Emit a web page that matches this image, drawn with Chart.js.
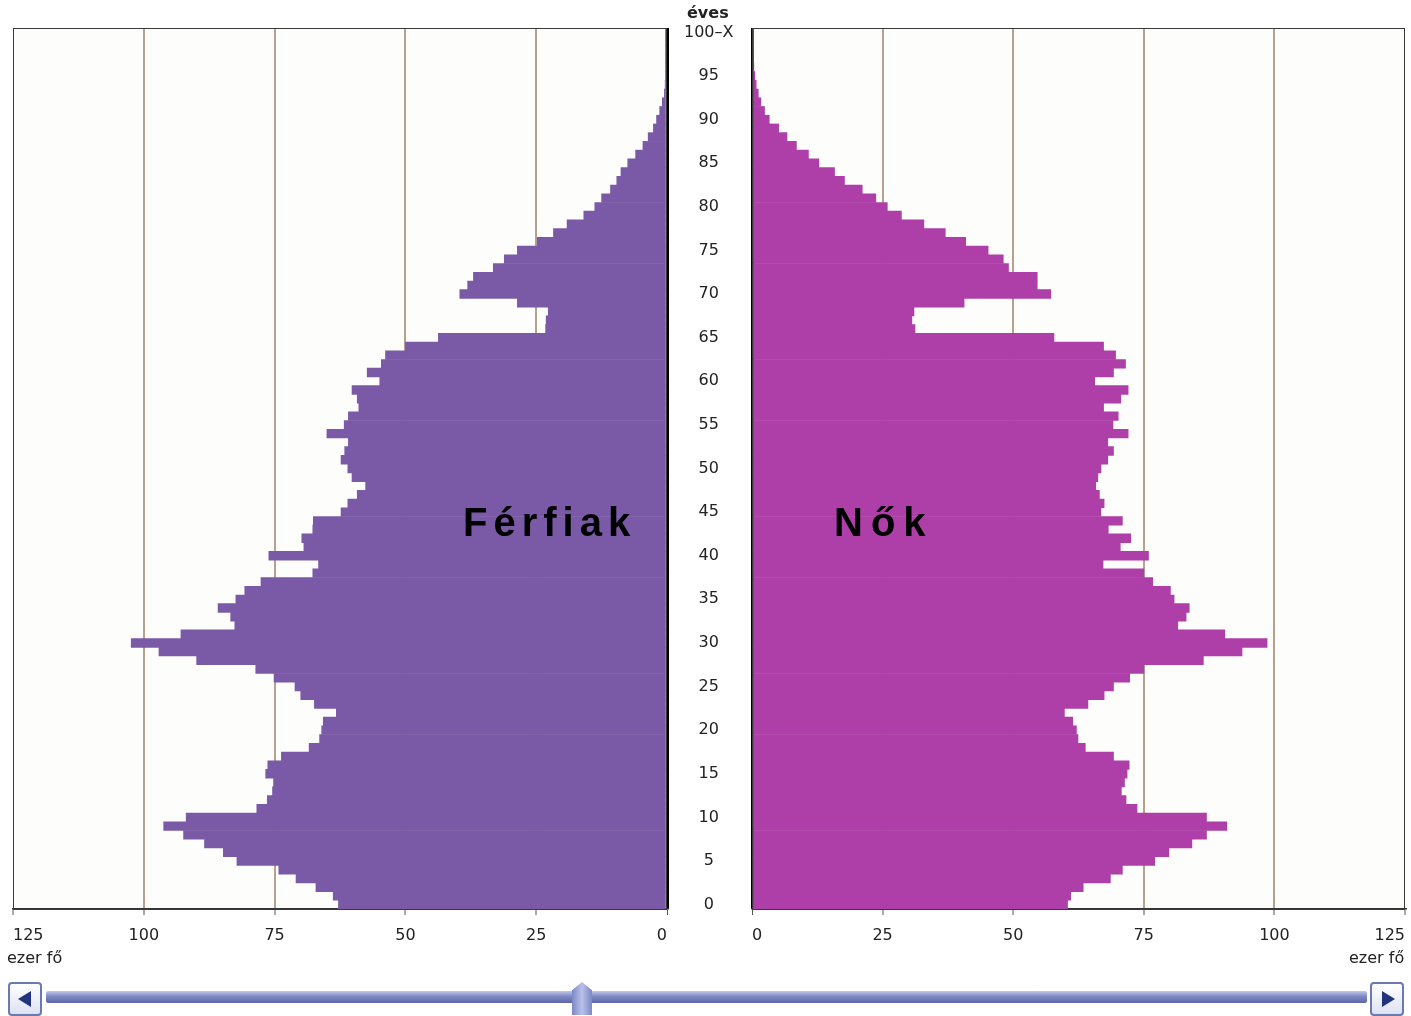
<!DOCTYPE html>
<html>
<head>
<meta charset="utf-8">
<script src="https://cdn.jsdelivr.net/npm/chart.js@4.4.1/dist/chart.umd.min.js"></script>
<style>
  body { margin: 0; background: #fff; width: 1411px; height: 1016px; overflow: hidden; position: relative; font-family: "DejaVu Sans", Verdana, sans-serif; }
  canvas { position: absolute; top: 0; }
  #left { left: 0; }
  #right { left: 741px; }
  .lbl { position: absolute; font-size: 16px; color: #222; white-space: nowrap; }
  .big { position: absolute; font-family: "Liberation Sans", Arial, sans-serif; font-weight: bold; font-size: 40px; line-height: 40px; letter-spacing: 6px; color: #000; top: 502px; }
  .btn { position: absolute; top: 982px; width: 30px; height: 30px; border: 2px solid #6b78b2; border-radius: 4px; background: linear-gradient(#ffffff, #dde2f3); }
  .tri { position: absolute; top: 7px; width: 0; height: 0; border-top: 8px solid transparent; border-bottom: 8px solid transparent; }
  #track { position: absolute; left: 46px; top: 991px; width: 1321px; height: 12px; border-radius: 2px; background: linear-gradient(#c3c9ea, #7f89c4 45%, #5d67a8); }
  #thumb { position: absolute; left: 572px; top: 982px; width: 20px; height: 33px; background: linear-gradient(90deg, #7c88c6, #b9c1ea 50%, #7c88c6); clip-path: polygon(50% 0, 100% 25%, 100% 100%, 0 100%, 0 25%); }
</style>
</head>
<body>
<canvas id="left" width="751" height="960"></canvas>
<canvas id="right" width="675" height="960"></canvas>

<div class="lbl" style="left:687px; top:3px; font-weight:bold;">éves</div>
<div class="lbl" style="left:7px; top:948px;">ezer fő</div>
<div class="lbl" style="left:1349px; top:948px;">ezer fő</div>
<div class="big" style="left:463px;">Férfiak</div>
<div class="big" style="left:834px; letter-spacing:8px;">Nők</div>

<div class="btn" style="left:8px;"><div class="tri" style="left:8px; border-right:13px solid #23347e;"></div></div>
<div id="track"></div>
<div id="thumb"></div>
<div class="btn" style="left:1370px;"><div class="tri" style="left:10px; border-left:13px solid #23347e;"></div></div>

<script>
// age categories 0..100, last one is "100–X"
const ageLabels = [];
for (let i = 0; i <= 100; i++) {
  ageLabels.push(i === 100 ? '100–X' : String(i));
}

// thousand people, by single year of age (0 .. 100+)
const males = [
  62.8, 63.8, 67.1, 70.9, 74.2, 82.2, 84.8, 88.4, 92.4, 96.2,
  91.9, 78.4, 76.4, 75.4, 75.2, 76.7, 76.3, 73.7, 68.4, 66.4,
  66.0, 65.7, 63.2, 67.4, 70.0, 71.1, 75.1, 78.6, 89.9, 97.1,
  102.4, 92.9, 82.6, 83.4, 85.8, 82.4, 80.7, 77.6, 67.7, 66.6,
  76.1, 69.4, 69.8, 67.7, 67.6, 62.3, 61.0, 59.2, 57.6, 60.2,
  61.0, 62.3, 61.6, 60.9, 65.0, 61.7, 60.9, 58.9, 59.2, 60.2,
  54.9, 57.3, 54.6, 53.8, 50.0, 43.7, 23.2, 23.1, 22.7, 28.6,
  39.6, 38.1, 37.0, 33.2, 31.1, 28.6, 24.8, 21.7, 19.1, 15.9,
  13.8, 12.5, 10.8, 9.6, 8.8, 7.5, 6.0, 4.6, 3.6, 2.6,
  2.0, 1.4, 0.9, 0.5, 0.35, 0.2, 0.12, 0.08, 0.05, 0.03,
  0.05
];
const females = [
  60.4, 61.0, 63.4, 68.6, 70.9, 77.1, 79.8, 84.2, 87.0, 90.9,
  87.0, 73.7, 71.6, 70.7, 71.3, 71.8, 72.2, 69.2, 63.8, 62.4,
  62.1, 61.4, 59.8, 64.3, 67.4, 69.2, 72.3, 75.0, 86.4, 93.8,
  98.6, 90.5, 81.5, 83.1, 83.7, 80.8, 80.1, 76.7, 75.0, 67.2,
  75.9, 70.5, 72.5, 68.2, 70.9, 66.8, 67.4, 66.5, 65.8, 66.2,
  66.8, 68.1, 69.2, 68.1, 72.0, 69.1, 70.1, 67.3, 70.6, 72.0,
  65.6, 69.2, 71.5, 69.6, 67.3, 57.8, 31.2, 30.6, 31.0, 40.6,
  57.2, 54.6, 54.6, 49.1, 48.1, 45.2, 40.9, 37.0, 32.9, 28.6,
  25.9, 23.7, 21.1, 17.7, 15.8, 12.8, 10.8, 8.5, 6.7, 5.1,
  3.3, 2.4, 1.7, 1.2, 0.8, 0.55, 0.35, 0.25, 0.15, 0.1,
  0.15
];
const xTicks = [0, 25, 50, 75, 100, 125];

const maleColor = '#7a5aa6';
const femaleColor = '#ae3fa9';
const gridColor = '#b5a18d';

// background and thin frame round the plot area
const frame = {
  id: 'frame',
  beforeDraw(chart) {
    const a = chart.chartArea, ctx = chart.ctx;
    ctx.save();
    ctx.fillStyle = '#fdfdfb';
    ctx.fillRect(a.left, a.top, a.right - a.left, a.bottom - a.top);
    ctx.restore();
  },
  afterDraw(chart) {
    const a = chart.chartArea, ctx = chart.ctx;
    ctx.save();
    ctx.strokeStyle = '#3a3a3a';
    ctx.lineWidth = 1;
    ctx.strokeRect(a.left + 0.5, a.top + 0.5, a.right - a.left - 1, a.bottom - a.top);
    ctx.restore();
  }
};

function xScale(reverse) {
  return {
    type: 'linear',
    min: 0,
    max: 125,
    reverse: reverse,
    afterBuildTicks: s => { s.ticks = xTicks.map(v => ({ value: v })); },
    afterFit: s => { s.height = 51; },
    ticks: {
      align: 'inner',
      padding: 11,
      color: '#222',
      font: { family: '"DejaVu Sans", Verdana, sans-serif', size: 16 }
    },
    grid: {
      tickLength: 6,
      color: c => (c.tick && c.tick.value === 0) ? '#000' : (c.tick && c.tick.value === 125 ? 'rgba(0,0,0,0)' : gridColor),
      lineWidth: c => (c.tick && c.tick.value === 0) ? 3 : 2,
      tickColor: '#555',
      tickWidth: 1
    },
    border: { display: true, color: '#333', width: 1.5 }
  };
}

function ageScale(isLeft) {
  const s = {
    type: 'category',
    reverse: true,
    display: isLeft,
    position: 'right',
    grid: { display: false, drawTicks: false },
    border: { display: false },
    ticks: {
      autoSkip: false,
      crossAlign: 'center',
      padding: 17,
      color: '#222',
      font: { family: '"DejaVu Sans", Verdana, sans-serif', size: 16 },
      callback: (v, i) => (i % 5 === 0 ? ageLabels[i] : '')
    }
  };
  if (isLeft) s.afterFit = sc => { sc.width = 84; };
  return s;
}

function makeChart(id, values, color, isLeft) {
  const ctx = document.getElementById(id).getContext('2d');
  return new Chart(ctx, {
    type: 'bar',
    data: {
      labels: ageLabels,
      datasets: [{
        data: values,
        backgroundColor: color,
        borderWidth: 0,
        barPercentage: 1,
        categoryPercentage: 1
      }]
    },
    options: {
      indexAxis: 'y',
      responsive: false,
      animation: false,
      layout: { padding: isLeft ? { left: 13, top: 28, right: 0, bottom: 0 } : { left: 10, top: 28, right: 5, bottom: 0 } },
      plugins: { legend: { display: false }, tooltip: { enabled: false } },
      scales: {
        x: xScale(isLeft),
        y: ageScale(isLeft)
      }
    },
    plugins: [frame]
  });
}

makeChart('left', males, maleColor, true);
makeChart('right', females, femaleColor, false);
</script>
</body>
</html>
